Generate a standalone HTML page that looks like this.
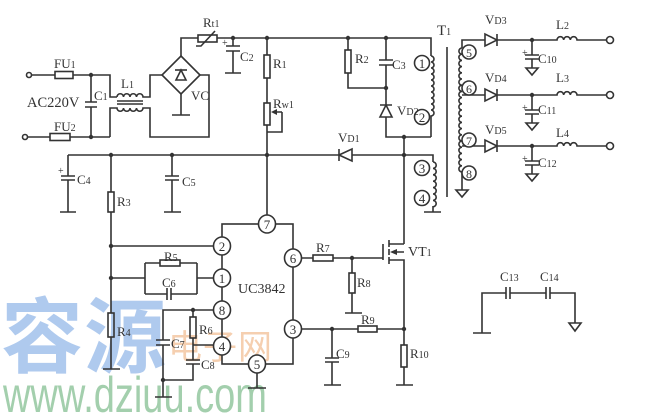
<!DOCTYPE html>
<html><head><meta charset="utf-8">
<style>
html,body{margin:0;padding:0;background:#fff;}
svg{display:block;}
.l{font-family:"Liberation Serif",serif;fill:#333;font-size:13px;}
.s{font-size:10px;}
.p{font-family:"Liberation Serif",serif;fill:#333;font-size:13px;text-anchor:middle;}
</style></head><body>
<svg width="666" height="416" viewBox="0 0 666 416" xmlns="http://www.w3.org/2000/svg">
<rect width="666" height="416" fill="#fff"/>
<!-- watermark -->
<text x="1" y="366" font-family="'Noto Sans CJK SC',sans-serif" font-weight="bold" font-size="82" fill="#afcaee" letter-spacing="1">容源</text>
<text x="168" y="359" font-family="'Noto Sans CJK SC',sans-serif" font-size="34" fill="#f5cfb0" letter-spacing="1">电子网</text>
<text transform="translate(3,412) scale(0.76,1)" font-family="'Liberation Sans',sans-serif" font-size="50" fill="#a3cfad">www.dziuu.com</text>

<g stroke="#333" stroke-width="1.6" fill="none">
<!-- input -->
<circle cx="29" cy="75" r="2.5"/>
<path d="M31.5,75H55M73,75H110V97H117"/>
<rect x="55" y="71.5" width="18" height="7"/>
<path d="M117,97a3.25,3.25 0 0 1 6.5,0a3.25,3.25 0 0 1 6.5,0a3.25,3.25 0 0 1 6.5,0a3.25,3.25 0 0 1 6.5,0H150V75H162"/>
<path d="M117,101H143M117,104H143"/>
<path d="M110,137V108H117a3.25,3.25 0 0 0 6.5,0a3.25,3.25 0 0 0 6.5,0a3.25,3.25 0 0 0 6.5,0a3.25,3.25 0 0 0 6.5,0H150V137H209V75H200"/>
<circle cx="25" cy="137" r="2.5"/>
<path d="M27.5,137H50M70,137H110"/>
<rect x="50" y="133.5" width="20" height="7"/>
<path d="M91,75V102M85,102H97M85,107H97M91,107V137"/>
<!-- bridge -->
<polygon points="181,56 200,75 181,94 162,75"/>
<path d="M175,70H187"/>
<polygon points="181,70 176,80 186,80"/>
<path d="M181,56V38H198M181,94V115M172,115H190"/>
<rect x="198" y="35" width="19" height="7"/>
<path d="M196,46H201L215,31"/>
<!-- top rail -->
<path d="M217,38H431V56"/>
<path d="M233,38V46M226,46H240M226,51H240M233,51V73M225,73H241"/>
<path d="M267,38V55M267,78V103M267,125V215"/>
<rect x="264" y="55" width="6" height="23"/>
<rect x="264" y="103" width="6" height="22"/>
<path d="M282,112H275M282,112V132H267"/>
<path d="M348,38V50M348,73V88H386"/>
<rect x="345" y="50" width="6" height="23"/>
<path d="M386,38V60M379,60H393M379,65H393M386,65V105M380,105H392M386,117V137H431"/>
<polygon points="386,105 380,117 392,117"/>
<path d="M431,56a3,3 0 0 1 0,6a3,3 0 0 1 0,6a3,3 0 0 1 0,6a3,3 0 0 1 0,6a3,3 0 0 1 0,6a3,3 0 0 1 0,6a3,3 0 0 1 0,6a3,3 0 0 1 0,6a3,3 0 0 1 0,6a3,3 0 0 1 0,6V137"/>
<path d="M404,137V244"/>
<!-- transformer core -->
<path d="M447,47V197"/>
<!-- secondary -->
<path d="M462,48V40H485M497,34V46M497,40H557a3.33,3.33 0 0 1 6.67,0a3.33,3.33 0 0 1 6.67,0a3.33,3.33 0 0 1 6.67,0H606.5"/>
<polygon points="485,34 485,46 497,40"/>
<circle cx="610" cy="40" r="3.5"/>
<path d="M462,95H485M497,89V101M497,95H557a3.33,3.33 0 0 1 6.67,0a3.33,3.33 0 0 1 6.67,0a3.33,3.33 0 0 1 6.67,0H606.5"/>
<polygon points="485,89 485,101 497,95"/>
<circle cx="610" cy="95" r="3.5"/>
<path d="M462,146H485M497,140V152M497,146H557a3.33,3.33 0 0 1 6.67,0a3.33,3.33 0 0 1 6.67,0a3.33,3.33 0 0 1 6.67,0H606.5"/>
<polygon points="485,140 485,152 497,146"/>
<circle cx="610" cy="146" r="3.5"/>
<path d="M462,48a3.1,3.1 0 0 0 0,6.2a3.1,3.1 0 0 0 0,6.2a3.1,3.1 0 0 0 0,6.2a3.1,3.1 0 0 0 0,6.2a3.1,3.1 0 0 0 0,6.2a3.1,3.1 0 0 0 0,6.2a3.1,3.1 0 0 0 0,6.2a3.1,3.1 0 0 0 0,6.2a3.1,3.1 0 0 0 0,6.2a3.1,3.1 0 0 0 0,6.2a3.1,3.1 0 0 0 0,6.2a3.1,3.1 0 0 0 0,6.2a3.1,3.1 0 0 0 0,6.2a3.1,3.1 0 0 0 0,6.2a3.1,3.1 0 0 0 0,6.2a3.1,3.1 0 0 0 0,6.2a3.1,3.1 0 0 0 0,6.2a3.1,3.1 0 0 0 0,6.2a3.1,3.1 0 0 0 0,6.2a3.1,3.1 0 0 0 0,6.2V190"/>
<polygon points="456,190 468,190 462,197"/>
<path d="M532,40V55M525,55H539M525,59H539M532,59V68"/>
<polygon points="526,68 538,68 532,75"/>
<path d="M532,95V110M525,110H539M525,114H539M532,114V123"/>
<polygon points="526,123 538,123 532,130"/>
<path d="M532,146V161M525,161H539M525,165H539M532,165V174"/>
<polygon points="526,174 538,174 532,181"/>
<!-- second rail -->
<path d="M68,155H339M352,155H433V162"/>
<path d="M339,149V161"/>
<polygon points="339,155 352,149 352,161"/>
<path d="M433,162a3.2,3.2 0 0 1 0,6.4a3.2,3.2 0 0 1 0,6.4a3.2,3.2 0 0 1 0,6.4a3.2,3.2 0 0 1 0,6.4a3.2,3.2 0 0 1 0,6.4a3.2,3.2 0 0 1 0,6.4a3.2,3.2 0 0 1 0,6.4V212M424,212H441"/>
<path d="M68,155V176M61,176H75M61,180H75M68,180V212M60,212H76"/>
<path d="M111,155V192M111,212V313M111,337V369M103,369H120"/>
<rect x="108" y="192" width="6" height="20"/>
<rect x="108" y="313" width="6" height="24"/>
<path d="M172,155V176M165,176H179M165,180H179M172,180V212M164,212H181"/>
<!-- pin2 / pin1 network -->
<path d="M111,246H213"/>
<path d="M111,278H145M145,263V294M145,263H160M180,263H197M145,294H167M167,288V300M171,288V300M171,294H197M197,263V294M197,278H214"/>
<rect x="160" y="260" width="20" height="6"/>
<!-- IC frame -->
<rect x="222" y="224" width="71" height="140"/>
<!-- pin8 / pin4 network -->
<path d="M213,310H163V340M156,340H170M156,345H170M163,345V397M155,397H172"/>
<path d="M193,310V317M193,338V360M193,345H213M186,360H200M186,364H200M193,364V380H163"/>
<rect x="190" y="317" width="6" height="21"/>
<path d="M257,373V388M248,388H266"/>
<!-- pin6 / mosfet -->
<path d="M301.5,258H313M333,258H383M383,244V260"/>
<rect x="313" y="255" width="20" height="6"/>
<path d="M389,240V247M389,249V255M389,257V264M389,244H404M389,260H404V329M396,252H404"/>
<path d="M352,258V273M352,293V313M345,313H362"/>
<rect x="349" y="273" width="6" height="20"/>
<!-- pin3 -->
<path d="M301.5,329H358M377,329H404"/>
<rect x="358" y="326" width="19" height="6"/>
<path d="M332,329V358M325,358H339M325,362H339M332,362V385M324,385H341"/>
<path d="M404,329V345M404,367V385M396,385H413"/>
<rect x="401" y="345" width="6" height="22"/>
<!-- C13 C14 -->
<path d="M473,333H491M482,333V293H506M506,287V299M510,287V299M510,293H546M546,287V299M550,287V299M550,293H575V323"/>
<polygon points="569,323 581,323 575,331"/>
</g>

<!-- filled bits -->
<g fill="#333" stroke="none">
<polygon points="271,112 277,109 277,115"/>
<polygon points="390,252 397,249 397,255"/>
<circle cx="91" cy="75" r="2.2"/><circle cx="91" cy="137" r="2.2"/>
<circle cx="233" cy="38" r="2.2"/><circle cx="267" cy="38" r="2.2"/>
<circle cx="348" cy="38" r="2.2"/><circle cx="386" cy="38" r="2.2"/>
<circle cx="386" cy="88" r="2.2"/><circle cx="404" cy="137" r="2.2"/>
<circle cx="532" cy="40" r="2.2"/><circle cx="532" cy="95" r="2.2"/><circle cx="532" cy="146" r="2.2"/>
<circle cx="111" cy="155" r="2.2"/><circle cx="172" cy="155" r="2.2"/>
<circle cx="267" cy="155" r="2.2"/><circle cx="404" cy="155" r="2.2"/>
<circle cx="111" cy="246" r="2.2"/><circle cx="111" cy="278" r="2.2"/>
<circle cx="193" cy="310" r="2.2"/><circle cx="163" cy="380" r="2.2"/>
<circle cx="352" cy="258" r="2.2"/><circle cx="332" cy="329" r="2.2"/><circle cx="404" cy="329" r="2.2"/>
</g>

<!-- pin circles -->
<g stroke="#333" stroke-width="1.6" fill="#fff">
<ellipse cx="267" cy="224" rx="8.5" ry="9"/>
<ellipse cx="222" cy="246" rx="8.5" ry="9"/>
<ellipse cx="222" cy="278" rx="8.5" ry="9"/>
<ellipse cx="222" cy="310" rx="8.5" ry="9"/>
<ellipse cx="222" cy="346" rx="8.5" ry="9"/>
<ellipse cx="257" cy="364" rx="8.5" ry="9"/>
<ellipse cx="293" cy="329" rx="8.5" ry="9"/>
<ellipse cx="293" cy="258" rx="8.5" ry="9"/>
<circle cx="422" cy="63" r="7.5"/>
<circle cx="422" cy="117" r="7.5"/>
<circle cx="422" cy="168" r="7.5"/>
<circle cx="422" cy="198" r="7.5"/>
<circle cx="469" cy="52" r="7"/>
<circle cx="469" cy="88" r="7"/>
<circle cx="469" cy="140" r="7"/>
<circle cx="469" cy="173" r="7"/>
</g>
<g class="p">
<text class="p" x="267" y="229">7</text>
<text class="p" x="222" y="251">2</text>
<text class="p" x="222" y="283">1</text>
<text class="p" x="222" y="315">8</text>
<text class="p" x="222" y="351">4</text>
<text class="p" x="257" y="369">5</text>
<text class="p" x="293" y="334">3</text>
<text class="p" x="293" y="263">6</text>
<text class="p" x="422" y="68">1</text>
<text class="p" x="422" y="122">2</text>
<text class="p" x="422" y="173">3</text>
<text class="p" x="422" y="203">4</text>
<text class="p" x="469" y="57" style="font-size:12px">5</text>
<text class="p" x="469" y="93" style="font-size:12px">6</text>
<text class="p" x="469" y="145" style="font-size:12px">7</text>
<text class="p" x="469" y="178" style="font-size:12px">8</text>
</g>

<!-- labels -->
<text class="l" x="54" y="68">FU<tspan class="s">1</tspan></text>
<text class="l" x="54" y="131">FU<tspan class="s">2</tspan></text>
<text class="l" x="27" y="107" style="font-size:14.5px">AC220V</text>
<text class="l" x="94" y="100">C<tspan class="s">1</tspan></text>
<text class="l" x="121" y="88">L<tspan class="s">1</tspan></text>
<text class="l" x="203" y="27">R<tspan class="s">t1</tspan></text>
<text class="l" x="191" y="100">VC</text>
<text class="l" x="222" y="46" style="font-size:10px">+</text>
<text class="l" x="240" y="61">C<tspan class="s">2</tspan></text>
<text class="l" x="273" y="68">R<tspan class="s">1</tspan></text>
<text class="l" x="273" y="108">R<tspan class="s">w1</tspan></text>
<text class="l" x="355" y="63">R<tspan class="s">2</tspan></text>
<text class="l" x="392" y="69">C<tspan class="s">3</tspan></text>
<text class="l" x="397" y="115">V<tspan class="s">D2</tspan></text>
<text class="l" x="437" y="35" style="font-size:15px">T<tspan class="s">1</tspan></text>
<text class="l" x="338" y="142">V<tspan class="s">D1</tspan></text>
<text class="l" x="485" y="24">V<tspan class="s">D3</tspan></text>
<text class="l" x="485" y="82">V<tspan class="s">D4</tspan></text>
<text class="l" x="485" y="134">V<tspan class="s">D5</tspan></text>
<text class="l" x="522" y="56" style="font-size:10px">+</text>
<text class="l" x="522" y="111" style="font-size:10px">+</text>
<text class="l" x="522" y="162" style="font-size:10px">+</text>
<text class="l" x="538" y="63">C<tspan class="s">10</tspan></text>
<text class="l" x="538" y="114">C<tspan class="s">11</tspan></text>
<text class="l" x="538" y="167">C<tspan class="s">12</tspan></text>
<text class="l" x="556" y="29">L<tspan class="s">2</tspan></text>
<text class="l" x="556" y="82">L<tspan class="s">3</tspan></text>
<text class="l" x="556" y="137">L<tspan class="s">4</tspan></text>
<text class="l" x="58" y="174" style="font-size:10px">+</text>
<text class="l" x="77" y="184">C<tspan class="s">4</tspan></text>
<text class="l" x="117" y="206">R<tspan class="s">3</tspan></text>
<text class="l" x="182" y="186">C<tspan class="s">5</tspan></text>
<text class="l" x="164" y="261">R<tspan class="s">5</tspan></text>
<text class="l" x="162" y="287">C<tspan class="s">6</tspan></text>
<text class="l" x="238" y="293" style="font-size:14px">UC3842</text>
<text class="l" x="117" y="336">R<tspan class="s">4</tspan></text>
<text class="l" x="199" y="334">R<tspan class="s">6</tspan></text>
<text class="l" x="171" y="348">C<tspan class="s">7</tspan></text>
<text class="l" x="201" y="369">C<tspan class="s">8</tspan></text>
<text class="l" x="316" y="252">R<tspan class="s">7</tspan></text>
<text class="l" x="408" y="256" style="font-size:14px">VT<tspan class="s">1</tspan></text>
<text class="l" x="357" y="287">R<tspan class="s">8</tspan></text>
<text class="l" x="361" y="324">R<tspan class="s">9</tspan></text>
<text class="l" x="336" y="358">C<tspan class="s">9</tspan></text>
<text class="l" x="410" y="358">R<tspan class="s">10</tspan></text>
<text class="l" x="500" y="281">C<tspan class="s">13</tspan></text>
<text class="l" x="540" y="281">C<tspan class="s">14</tspan></text>
</svg>
</body></html>
